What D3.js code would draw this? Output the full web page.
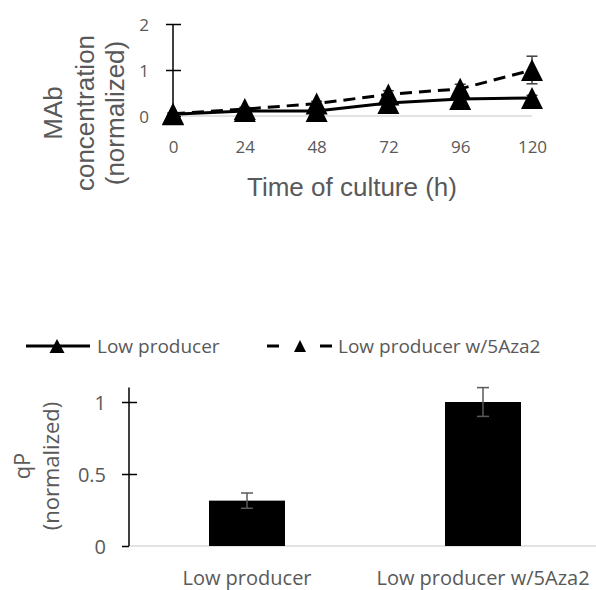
<!DOCTYPE html>
<html>
<head>
<meta charset="utf-8">
<script src="https://cdn.jsdelivr.net/npm/d3@7"></script>
<style>
  html, body { margin: 0; padding: 0; background: #fff; }
  body { width: 596px; height: 590px; overflow: hidden; }
  svg { display: block; }
</style>
</head>
<body>
<script>
const width = 596;
const height = 590;
const GRAY = "#595959";

// top chart: MAb concentration over time
const times = [0, 24, 48, 72, 96, 120];
const lowProducer = [0.04, 0.11, 0.11, 0.28, 0.37, 0.39];
const lowProducerErr = [0.02, 0.03, 0.03, 0.05, 0.05, 0.06];
const lowProducerAza = [0.05, 0.15, 0.27, 0.47, 0.59, 1.0];
const lowProducerAzaErr = [0.02, 0.04, 0.05, 0.08, 0.1, 0.3];
const mabTicks = [0, 1, 2];

// bottom chart: qP
const qpCategories = ["Low producer", "Low producer w/5Aza2"];
const qpValues = [0.315, 1.0];
const qpErr = [0.053, 0.1];
const qpTicks = [0, 0.5, 1];

const seriesNames = ["Low producer", "Low producer w/5Aza2"];

const svg = d3.create("svg").attr("width", width).attr("height", height);

const triangle = (w, h) => `M0,${-h / 2}L${w / 2},${h / 2}L${-w / 2},${h / 2}Z`;

// ---------- top chart ----------
const x = d3.scalePoint().domain(times).range([173, 532]);
const y = d3.scaleLinear().domain([0, 2]).range([116, 24]);

// gray baseline
svg.append("line")
  .attr("x1", x(0)).attr("x2", x(120))
  .attr("y1", y(0)).attr("y2", y(0))
  .attr("stroke", "#d9d9d9").attr("stroke-width", 1.5);

const yAxis = svg.append("g")
  .attr("transform", `translate(${x(0)},0)`)
  .call(d3.axisLeft(y).tickValues(mabTicks).tickSize(15).tickFormat(d3.format("d")));
yAxis.select(".domain").attr("stroke", "#000").attr("stroke-width", 1.5).attr("d", `M0,${y(2)}V${y(0)}`);
yAxis.selectAll(".tick line").attr("x1", 8).attr("x2", -7).attr("stroke", "#000").attr("stroke-width", 1.5);
yAxis.selectAll(".tick text")
  .attr("x", -24).attr("dy", "0.36em")
  .attr("fill", GRAY).style("font", "17px 'Open Sans'");

const xAxis = svg.append("g")
  .attr("transform", `translate(0,${y(0)})`)
  .call(d3.axisBottom(x).tickSize(0));
xAxis.select(".domain").remove();
xAxis.selectAll(".tick text")
  .attr("y", 37).attr("dy", 0)
  .attr("fill", GRAY).style("font", "17px 'Open Sans'");

const series = [
  { values: lowProducer, err: lowProducerErr, dash: null },
  { values: lowProducerAza, err: lowProducerAzaErr, dash: "12,7" },
];

const line = d3.line().x((d, i) => x(times[i])).y((d) => y(d));

series.forEach((s) => {
  // error bars
  const eb = svg.append("g").attr("stroke", "#404040").attr("stroke-width", 1.5);
  s.values.forEach((v, i) => {
    const cx = x(times[i]);
    eb.append("line").attr("x1", cx).attr("x2", cx).attr("y1", y(v - s.err[i])).attr("y2", y(v + s.err[i]));
    eb.append("line").attr("x1", cx - 5.5).attr("x2", cx + 5.5).attr("y1", y(v + s.err[i])).attr("y2", y(v + s.err[i]));
    eb.append("line").attr("x1", cx - 5.5).attr("x2", cx + 5.5).attr("y1", y(v - s.err[i])).attr("y2", y(v - s.err[i]));
  });
  svg.append("path")
    .attr("d", line(s.values))
    .attr("fill", "none")
    .attr("stroke", "#000")
    .attr("stroke-width", 3)
    .attr("stroke-dasharray", s.dash);
});

series.forEach((s) => {
  svg.append("g")
    .selectAll("path")
    .data(s.values)
    .join("path")
    .attr("d", triangle(22, 22))
    .attr("transform", (d, i) => `translate(${x(times[i])},${y(d)})`)
    .attr("fill", "#000");
});

// axis titles
const yTitle = svg.append("g")
  .attr("transform", "translate(0,113) rotate(-90)")
  .attr("fill", GRAY)
  .attr("text-anchor", "middle")
  .style("font", "26px 'Liberation Sans', Arial, sans-serif");
[["MAb", 62], ["concentration", 94], ["(normalized)", 124]].forEach(([t, by]) => {
  yTitle.append("text").attr("x", 0).attr("y", by).text(t);
});

svg.append("text")
  .attr("x", 352).attr("y", 196)
  .attr("text-anchor", "middle")
  .attr("fill", GRAY)
  .style("font", "26px 'Liberation Sans', Arial, sans-serif")
  .text("Time of culture (h)");

// ---------- legend ----------
const legend = svg.append("g").attr("transform", "translate(0,346)");
legend.append("line").attr("x1", 26).attr("x2", 90).attr("stroke", "#000").attr("stroke-width", 3);
legend.append("path").attr("d", triangle(15, 14)).attr("transform", "translate(57,0)").attr("fill", "#000");
legend.append("line").attr("x1", 267).attr("x2", 279).attr("stroke", "#000").attr("stroke-width", 3);
legend.append("line").attr("x1", 320).attr("x2", 332).attr("stroke", "#000").attr("stroke-width", 3);
legend.append("path").attr("d", triangle(12, 12)).attr("transform", "translate(300,0)").attr("fill", "#000");
legend.selectAll("text")
  .data(seriesNames)
  .join("text")
  .attr("x", (d, i) => (i === 0 ? 97 : 338))
  .attr("y", 7)
  .attr("fill", GRAY)
  .style("font", "19px 'Open Sans'")
  .text((d) => d);

// ---------- bottom chart ----------
const xb = d3.scaleBand().domain(qpCategories).range([129, 601]);
const yb = d3.scaleLinear().domain([0, 1.1]).range([546, 387.6]);
const barW = xb.bandwidth() * 0.322;

svg.append("line")
  .attr("x1", 129).attr("x2", width)
  .attr("y1", yb(0)).attr("y2", yb(0))
  .attr("stroke", "#d9d9d9").attr("stroke-width", 1.5);

svg.append("g")
  .selectAll("rect")
  .data(qpValues)
  .join("rect")
  .attr("x", (d, i) => xb(qpCategories[i]) + xb.bandwidth() / 2 - barW / 2)
  .attr("width", barW)
  .attr("y", (d) => yb(d))
  .attr("height", (d) => yb(0) - yb(d))
  .attr("fill", "#000");

const qeb = svg.append("g").attr("stroke", GRAY).attr("stroke-width", 1.5);
qpValues.forEach((v, i) => {
  const cx = xb(qpCategories[i]) + xb.bandwidth() / 2;
  qeb.append("line").attr("x1", cx).attr("x2", cx).attr("y1", yb(v - qpErr[i])).attr("y2", yb(v + qpErr[i]));
  qeb.append("line").attr("x1", cx - 6).attr("x2", cx + 6).attr("y1", yb(v + qpErr[i])).attr("y2", yb(v + qpErr[i]));
  qeb.append("line").attr("x1", cx - 6).attr("x2", cx + 6).attr("y1", yb(v - qpErr[i])).attr("y2", yb(v - qpErr[i]));
});

const ybAxis = svg.append("g")
  .attr("transform", "translate(129,0)")
  .call(d3.axisLeft(yb).tickValues(qpTicks).tickSize(15).tickFormat((d) => d));
ybAxis.select(".domain").attr("stroke", "#000").attr("stroke-width", 1.5).attr("d", `M0,${yb(1.1)}V${yb(0)}`);
ybAxis.selectAll(".tick line")
  .attr("x1", (d) => (d === 0 ? 0 : 8)).attr("x2", -7)
  .attr("stroke", "#000").attr("stroke-width", 1.5);
ybAxis.selectAll(".tick text")
  .attr("x", -23).attr("dy", "0.36em")
  .attr("fill", GRAY).style("font", "20px 'Open Sans'");

const xbAxis = svg.append("g")
  .attr("transform", `translate(0,${yb(0)})`)
  .call(d3.axisBottom(xb).tickSize(0));
xbAxis.select(".domain").remove();
xbAxis.selectAll(".tick text")
  .attr("y", 39).attr("dy", 0)
  .attr("fill", GRAY).style("font", "20px 'Open Sans'");

const ybTitle = svg.append("g")
  .attr("transform", "translate(0,466) rotate(-90)")
  .attr("fill", GRAY)
  .attr("text-anchor", "middle")
  .style("font", "22px 'Open Sans'");
[["qP", 30], ["(normalized)", 59]].forEach(([t, by]) => {
  ybTitle.append("text").attr("x", 0).attr("y", by).text(t);
});

document.body.appendChild(svg.node());
</script>
</body>
</html>
